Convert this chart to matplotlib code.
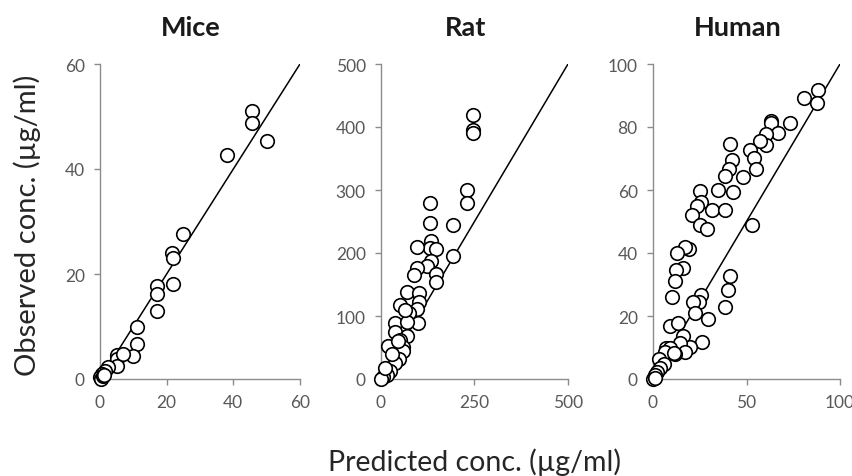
import numpy as np
import matplotlib
matplotlib.use('Agg')
import matplotlib.pyplot as plt

plt.rcParams['font.family'] = ['Lato', 'DejaVu Sans']

# Mice: predicted vs observed (ug/ml)
mice_pred = [45.5, 45.5, 50.0, 38.0, 25.0, 21.5, 21.8, 21.8, 17.0, 17.0, 17.0,
             11.2, 11.2, 9.8, 5.0, 5.0, 5.0, 7.0, 2.5, 1.5, 0.5, 0.0, 0.2, 0.8, 1.2]
mice_obs = [51.1, 48.8, 45.3, 42.7, 27.6, 24.0, 23.0, 18.1, 17.7, 16.2, 12.9,
            10.0, 6.6, 4.4, 4.6, 3.8, 2.5, 4.8, 2.2, 1.6, 1.0, 0.3, 0.0, 0.5, 0.8]

# Rat
rat_pred = [247, 247, 247, 230, 230, 192, 130, 130, 135, 130, 146, 95, 192, 135,
            123, 95, 89, 146, 146, 70, 102, 102, 95, 75, 51, 98, 37, 37, 70, 51,
            59, 20, 59, 49, 37, 24, 15, 6, 0, 70, 64, 30, 45, 10]
rat_obs = [419, 395, 390, 300, 279, 244, 279, 247, 219, 208, 207, 210, 196, 187,
           179, 176, 165, 167, 154, 138, 136, 122, 111, 105, 118, 89, 89, 75, 69, 62,
           51, 53, 44, 32, 25, 13, 6, 3, 0, 91, 110, 40, 60, 18]

# Human
human_pred = [88.1, 87.6, 80.7, 73.0, 63.3, 63.3, 66.8, 60.6, 60.3, 57.4, 51.8,
              53.9, 55.3, 47.9, 41.1, 42.0, 40.8, 38.5, 42.9, 34.6, 31.4, 38.5,
              25.2, 25.9, 23.4, 20.7, 25.2, 28.7, 53.0, 19.0, 17.2, 12.8, 16.0,
              12.4, 11.9, 10.1, 41.1, 40.2, 38.5, 25.5, 24.8, 21.6, 22.2, 29.6,
              8.9, 13.3, 16.3, 26.1, 19.9, 14.5, 17.2, 7.1, 9.2, 6.6, 11.9, 11.0,
              3.0, 5.7, 3.9, 2.1, 0.9, 0.0, 1.2]
human_obs = [91.8, 87.6, 89.2, 81.4, 82.0, 81.4, 78.2, 77.7, 74.3, 75.6, 72.6,
             70.3, 66.8, 64.1, 74.5, 69.4, 66.6, 64.6, 59.4, 60.0, 53.5, 53.5,
             59.7, 56.2, 54.9, 52.0, 48.8, 47.5, 49.0, 41.4, 41.9, 40.0, 35.2,
             34.7, 31.0, 26.0, 32.8, 28.3, 23.0, 26.8, 24.6, 24.3, 21.1, 19.0,
             16.7, 17.7, 13.5, 11.6, 10.3, 11.4, 8.7, 10.0, 9.8, 8.7, 7.9, 8.2,
             6.3, 4.8, 3.4, 2.3, 1.3, 0.0, 0.4]

titles = ['Mice', 'Rat', 'Human']
limits = [60, 500, 100]
ticks = [[0, 20, 40, 60], [0, 250, 500], [0, 50, 100]]
yticks = [[0, 20, 40, 60], [0, 100, 200, 300, 400, 500], [0, 20, 40, 60, 80, 100]]
preds = [mice_pred, rat_pred, human_pred]
obs = [mice_obs, rat_obs, human_obs]

W, H = 853, 477
fig = plt.figure(figsize=(W / 100, H / 100), dpi=100)

# panel boxes in pixels: left, right
boxes = [(100, 300), (381, 568), (653, 840)]
top_px, bot_px = 65, 380

for i in range(3):
    l, r = boxes[i]
    ax = fig.add_axes([l / W, 1 - bot_px / H, (r - l) / W, (bot_px - top_px) / H])
    lim = limits[i]
    ax.plot([0, lim], [0, lim], color='black', linewidth=1.1, zorder=2)
    ax.scatter(preds[i], obs[i], s=95, facecolors='white', edgecolors='black',
               linewidths=1.2, clip_on=False, zorder=3)
    ax.set_xlim(0, lim)
    ax.set_ylim(0, lim)
    ax.set_xticks(ticks[i])
    ax.set_yticks(yticks[i])
    for side in ['top', 'right']:
        ax.spines[side].set_visible(False)
    for side in ['left', 'bottom']:
        ax.spines[side].set_color('#8c8c8c')
        ax.spines[side].set_linewidth(1.0)
    ax.tick_params(axis='both', direction='out', length=4, width=1.0,
                   color='#8c8c8c', labelcolor='#595959', labelsize=12.5, pad=7)
    fig.text(((l + r) / 2 - 9) / W, 1 - 28 / H, titles[i], fontsize=19.5,
             fontweight='bold', ha='center', va='center', color='#1a1a1a')

fig.text(27 / W, 1 - 225 / H, 'Observed conc. (µg/ml)', rotation=90,
         ha='center', va='center', fontsize=21, color='#262626')
fig.text(475 / W, 1 - 462 / H, 'Predicted conc. (µg/ml)',
         ha='center', va='center', fontsize=20.5, color='#262626')

fig.savefig('out.png', dpi=100)
